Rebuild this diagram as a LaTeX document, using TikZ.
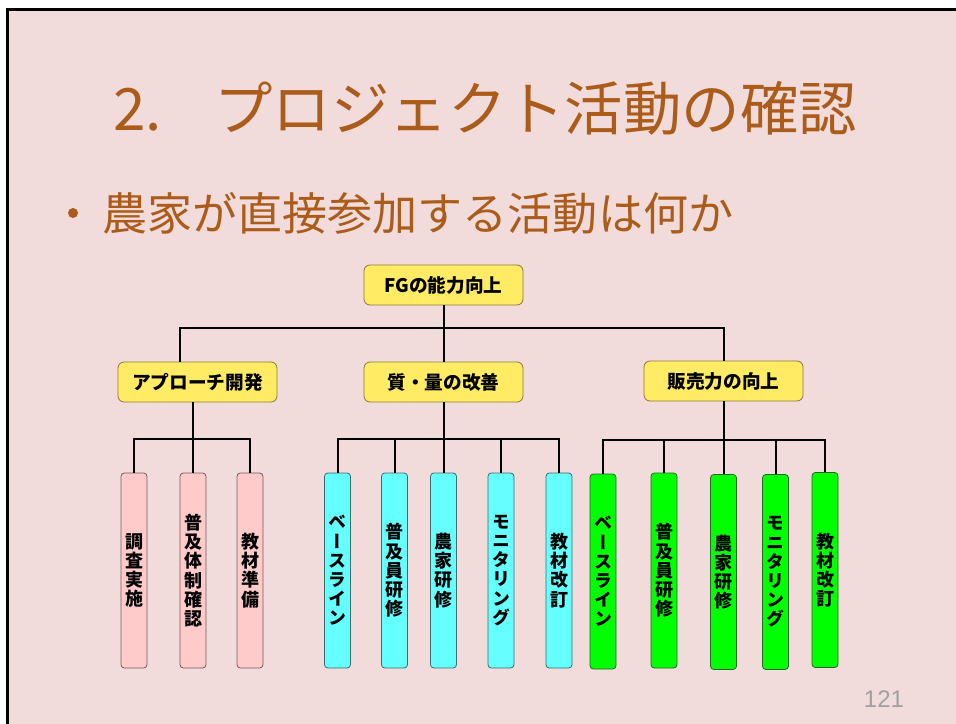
\documentclass[tikz,border=0pt]{standalone}
\usepackage{fontspec}
\setmainfont{Noto Sans CJK JP}
\newfontfamily\jpv[RawFeature=+vert]{Noto Sans CJK JP}
\newfontfamily\numfont{Liberation Sans}
\definecolor{slidebg}{RGB}{242,220,219}
\definecolor{titlebrown}{RGB}{172,92,26}
\definecolor{boxyellow}{RGB}{255,236,100}
\definecolor{boxyellowline}{RGB}{140,120,60}
\definecolor{leafpink}{RGB}{255,202,202}
\definecolor{leafpinkline}{RGB}{120,90,90}
\definecolor{leafcyan}{RGB}{102,255,255}
\definecolor{leafcyanline}{RGB}{60,110,110}
\definecolor{leafgreen}{RGB}{0,255,0}
\definecolor{leafgreenline}{RGB}{40,100,40}
\definecolor{pagegray}{RGB}{160,160,160}
\tikzset{
  conn/.style={line width=1.5pt, black},
  mainbox/.style={rectangle, rounded corners=4.5pt, draw=boxyellowline, line width=0.6pt,
    fill=boxyellow, minimum width=119.25pt, minimum height=30pt, inner sep=0pt,
    font=\bfseries\fontsize{14}{16}\selectfont},
  leafbox/.style={rectangle, rounded corners=2.5pt, line width=0.6pt,
    minimum width=19.5pt, minimum height=146.25pt, inner sep=0pt, align=center,
    font=\jpv\bfseries\fontsize{13.5}{14.4}\selectfont},
  pinkleaf/.style={leafbox, fill=leafpink, draw=leafpinkline},
  cyanleaf/.style={leafbox, fill=leafcyan, draw=leafcyanline},
  greenleaf/.style={leafbox, fill=leafgreen, draw=leafgreenline},
}
\begin{document}
\begin{tikzpicture}[x=0.75pt,y=-0.75pt]
\useasboundingbox (0,0) rectangle (956,724);
\fill[white] (0,0) rectangle (956,724);
\fill[slidebg] (7.5,10) rectangle (956,724);
\draw[line width=2.25pt] (7.5,724) -- (7.5,10) -- (956,10);

% title and subtitle
\node[anchor=west, inner sep=0pt, text=titlebrown, font=\fontsize{43.8}{50}\selectfont]
  (title) at (113,108) {2.\hspace{0.9em}プロジェクト活動の確認};
\node[circle, fill=titlebrown, inner sep=0pt, minimum size=7.5pt] (bullet) at (73,213) {};
\node[anchor=west, inner sep=0pt, text=titlebrown, font=\fontsize{33.8}{40}\selectfont]
  (sub) at (102,213) {農家が直接参加する活動は何か};

% main boxes
\node[mainbox] (fg) at (443.5,285) {FGの能力向上};
\node[mainbox] (app) at (197.5,382) {アプローチ開発};
\node[mainbox] (qual) at (443.5,382) {質・量の改善};
\node[mainbox] (sales) at (723.5,381) {販売力の向上};

% leaves
\node[pinkleaf] (l1) at (134,570.5) {調\\査\\実\\施};
\node[pinkleaf] (l2) at (193,570.5) {普\\及\\体\\制\\確\\認};
\node[pinkleaf] (l3) at (250,570.5) {教\\材\\準\\備};

\node[cyanleaf] (m1) at (337.5,570.5) {ベ\\ー\\ス\\ラ\\イ\\ン};
\node[cyanleaf] (m2) at (394.5,570.5) {普\\及\\員\\研\\修};
\node[cyanleaf] (m3) at (443.5,570.5) {農\\家\\研\\修};
\node[cyanleaf] (m4) at (501,570.5) {モ\\ニ\\タ\\リ\\ン\\グ};
\node[cyanleaf] (m5) at (559,570.5) {教\\材\\改\\訂};

\node[greenleaf] (r1) at (603,571.5) {ベ\\ー\\ス\\ラ\\イ\\ン};
\node[greenleaf] (r2) at (664,570.5) {普\\及\\員\\研\\修};
\node[greenleaf] (r3) at (723.5,572) {農\\家\\研\\修};
\node[greenleaf] (r4) at (775.5,572) {モ\\ニ\\タ\\リ\\ン\\グ};
\node[greenleaf] (r5) at (825,570) {教\\材\\改\\訂};

% connectors level 1
\coordinate (bus1) at (180,328);
\draw[conn] (fg.south) -- (qual.north);
\draw[conn] (app.north -| bus1) -- (bus1) -- (bus1 -| sales.north) -- (sales.north);

% left group
\coordinate (busA) at (0,439);
\draw[conn] (l1.north) -- (l1.north |- busA) -- (l3.north |- busA) -- (l3.north);
\draw[conn] (app.south -| l2.north) -- (l2.north);

% middle group
\draw[conn] (m1.north) -- (m1.north |- busA) -- (m5.north |- busA) -- (m5.north);
\draw[conn] (qual.south) -- (m3.north);
\draw[conn] (m2.north |- busA) -- (m2.north);
\draw[conn] (m4.north |- busA) -- (m4.north);

% right group
\coordinate (busB) at (0,440);
\draw[conn] (r1.north) -- (r1.north |- busB) -- (r5.north |- busB) -- (r5.north);
\draw[conn] (sales.south) -- (r3.north);
\draw[conn] (r2.north |- busB) -- (r2.north);
\draw[conn] (r4.north |- busB) -- (r4.north);

% page number
\node[text=pagegray, inner sep=0pt, font=\numfont\fontsize{18}{20}\selectfont] (page) at (884,699) {121};
\end{tikzpicture}
\end{document}
